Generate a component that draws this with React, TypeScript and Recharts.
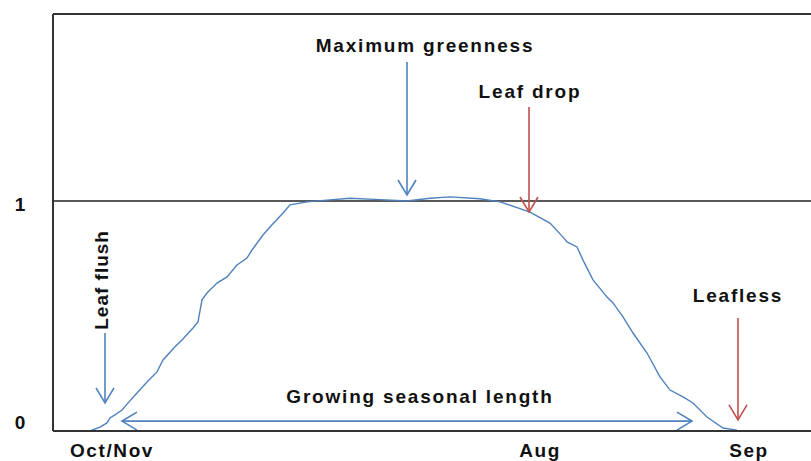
import { Line, LineChart, ReferenceDot, ReferenceLine, XAxis, YAxis } from "recharts";

// day index along the season (0 = left edge of plot) and relative greenness
const DAY = [
  37, 47, 54, 57, 62, 69, 74, 84, 94, 104, 110, 122, 129, 140, 145, 149, 154, 164, 174, 184, 194, 199, 210, 217, 230,
  237, 254, 274, 297, 327, 354, 377, 397, 427, 447, 477, 497, 510, 514, 524, 530, 540, 550, 554, 560, 570, 580, 594,
  607, 617, 630, 640, 654, 670, 684,
];
const GREENNESS = [
  0, 0.017, 0.035, 0.057, 0.07, 0.091, 0.117, 0.165, 0.213, 0.257, 0.309, 0.366, 0.396, 0.448, 0.474, 0.57, 0.6, 0.643,
  0.67, 0.722, 0.752, 0.787, 0.852, 0.887, 0.948, 0.983, 0.996, 1.004, 1.012, 1.006, 1.0, 1.012, 1.018, 1.01, 0.996,
  0.952, 0.904, 0.843, 0.822, 0.8, 0.743, 0.657, 0.604, 0.583, 0.557, 0.496, 0.426, 0.339, 0.235, 0.178, 0.148, 0.122,
  0.061, 0.013, 0.004,
];

const X_MAX = 758;
const Y_MAX = 1.813;
const X_TICKS = [59, 487, 696];
const X_LABELS = ["Oct/Nov", "Aug", "Sep"];
const Y_TICKS = [0, 1];

// annotation arrows: [x1, y1, x2, y2]
const ARROW_MAX_GREEN = [354, 1.604, 354, 1.026];
const ARROW_LEAF_DROP = [476, 1.409, 476, 0.952];
const ARROW_LEAFLESS = [685, 0.491, 685, 0.048];
const ARROW_LEAF_FLUSH = [52, 0.426, 52, 0.122];
const ARROW_SEASON = [69, 0.043, 639, 0.043];

// annotation labels: [x, y, text, vertical]
const LABELS: [number, number, string, boolean][] = [
  [372, 1.674, "Maximum greenness", false],
  [477, 1.474, "Leaf drop", false],
  [685, 0.591, "Leafless", false],
  [367, 0.148, "Growing seasonal length", false],
  [49, 0.657, "Leaf flush", true],
];

const BLUE = "#4f81bd";
const RED = "#c0504d";
const FONT = "'Liberation Sans', Arial, sans-serif";

const data = DAY.map((d, i) => ({ day: d, g: GREENNESS[i] }));

function arrowShape(color: string, both = false) {
  return (props: any) => {
    const { x1, y1, x2, y2 } = props;
    const head = (tx: number, ty: number, fx: number, fy: number) => {
      const ang = Math.atan2(ty - fy, tx - fx);
      const L = 15;
      const W = 9;
      const bx = tx - L * Math.cos(ang);
      const by = ty - L * Math.sin(ang);
      const px = -Math.sin(ang) * W;
      const py = Math.cos(ang) * W;
      return `M${bx + px},${by + py} L${tx},${ty} L${bx - px},${by - py}`;
    };
    return (
      <g>
        <line x1={x1} y1={y1} x2={x2} y2={y2} stroke={color} strokeWidth={1.6} />
        <path d={head(x2, y2, x1, y1)} fill="none" stroke={color} strokeWidth={1.6} />
        {both && <path d={head(x1, y1, x2, y2)} fill="none" stroke={color} strokeWidth={1.6} />}
      </g>
    );
  };
}

function labelShape(text: string, vertical: boolean) {
  return (props: any) => {
    const { cx, cy } = props;
    return (
      <text
        x={cx}
        y={cy}
        textAnchor="middle"
        dominantBaseline="central"
        transform={vertical ? `rotate(-90 ${cx} ${cy})` : undefined}
        fontFamily={FONT}
        fontWeight="bold"
        fontSize={19}
        letterSpacing={vertical ? 1 : 1.8}
        fill="#111"
      >
        {text}
      </text>
    );
  };
}

const XTick = (props: any) => {
  const { x, y, payload } = props;
  const idx = X_TICKS.indexOf(payload.value);
  return (
    <text x={x} y={y + 18} textAnchor="middle" fontFamily={FONT} fontWeight="bold" fontSize={19} letterSpacing={1.6} fill="#111">
      {X_LABELS[idx]}
    </text>
  );
};

const YTick = (props: any) => {
  const { x, y, payload } = props;
  // the "0" label sits a little above the axis, the "1" a little below its line
  const dy = payload.value === 0 ? -9 : 4;
  return (
    <text x={x - 25} y={y + dy} textAnchor="middle" dominantBaseline="central" fontFamily={FONT} fontWeight="bold" fontSize={19} fill="#111">
      {payload.value}
    </text>
  );
};

const seg = (a: number[]) => [
  { x: a[0], y: a[1] },
  { x: a[2], y: a[3] },
];

export default function App() {
  return (
    <div style={{ position: "absolute", left: 0, top: 0, width: 811, height: 461, background: "#fff" }}>
      <LineChart width={811} height={461} data={data} margin={{ top: 14, right: 0, bottom: 0, left: 0 }}>
        <XAxis
          dataKey="day"
          type="number"
          domain={[0, X_MAX]}
          ticks={X_TICKS}
          tick={<XTick />}
          tickLine={false}
          axisLine={{ stroke: "#333", strokeWidth: 2 }}
          height={30}
          interval={0}
        />
        <YAxis
          type="number"
          domain={[0, Y_MAX]}
          ticks={Y_TICKS}
          tick={<YTick />}
          tickLine={false}
          axisLine={{ stroke: "#333", strokeWidth: 2 }}
          width={53}
          allowDataOverflow
        />
        <ReferenceLine y={1} stroke="#222" strokeWidth={1.6} />
        <ReferenceLine y={Y_MAX} stroke="#333" strokeWidth={2} />
        <Line
          type="linear"
          dataKey="g"
          stroke={BLUE}
          strokeWidth={1.4}
          dot={false}
          isAnimationActive={false}
        />
        <ReferenceLine segment={seg(ARROW_MAX_GREEN)} shape={arrowShape(BLUE)} />
        <ReferenceLine segment={seg(ARROW_LEAF_DROP)} shape={arrowShape(RED)} />
        <ReferenceLine segment={seg(ARROW_LEAFLESS)} shape={arrowShape(RED)} />
        <ReferenceLine segment={seg(ARROW_LEAF_FLUSH)} shape={arrowShape(BLUE)} />
        <ReferenceLine segment={seg(ARROW_SEASON)} shape={arrowShape(BLUE, true)} />
        {LABELS.map(([x, y, text, vertical]) => (
          <ReferenceDot key={text} x={x} y={y} r={0} shape={labelShape(text, vertical)} />
        ))}
      </LineChart>
    </div>
  );
}
